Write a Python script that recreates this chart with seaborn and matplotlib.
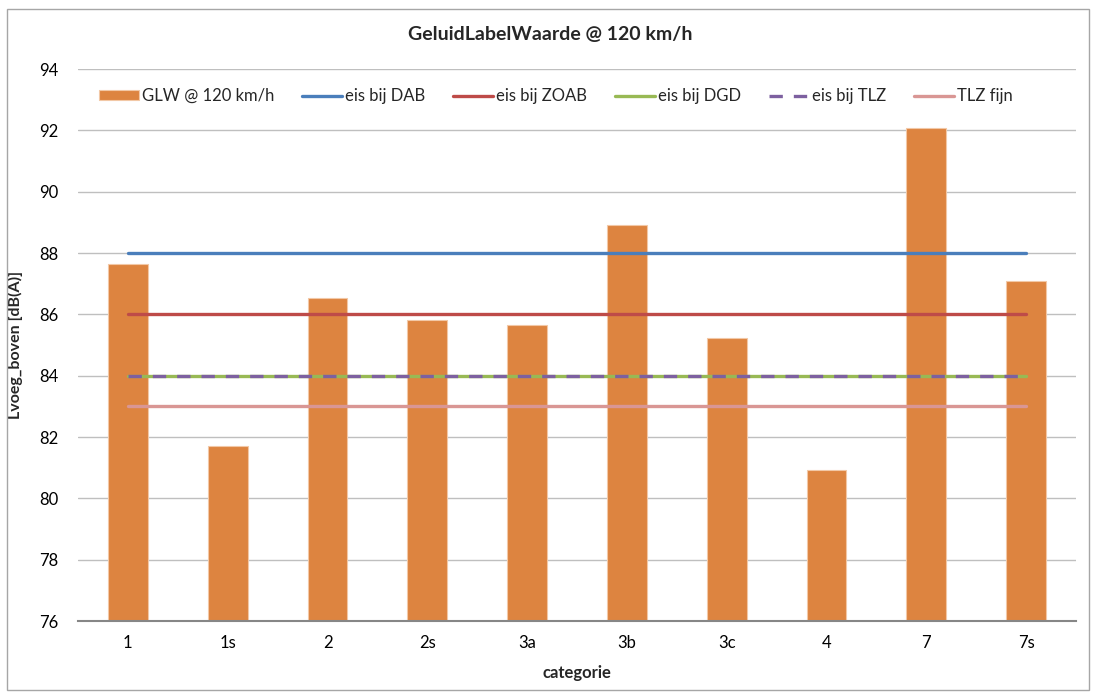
import matplotlib
matplotlib.use("Agg")
import matplotlib.pyplot as plt
import seaborn as sns
import pandas as pd
from matplotlib.patches import Rectangle

categories = ["1", "1s", "2", "2s", "3a", "3b", "3c", "4", "7", "7s"]
glw = [87.64, 81.71, 86.53, 85.82, 85.65, 88.91, 85.23, 80.93, 92.08, 87.09]
eis_dab = 88
eis_zoab = 86
eis_dgd = 84
eis_tlz = 84
tlz_fijn = 83
yticks = [76, 78, 80, 82, 84, 86, 88, 90, 92, 94]

sns.set_theme(style="white")
plt.rcParams['font.family'] = ['Lato', 'DejaVu Sans']

fig = plt.figure(figsize=(10.96, 6.95), dpi=100)
fig.patches.append(Rectangle((7/1096, 1 - 690/695), 1082/1096, 681/695,
                             transform=fig.transFigure, fill=False,
                             edgecolor="#A6A6A6", linewidth=1.0))
ax = fig.add_axes([78/1096, 1 - 621/695, 998/1096, 552/695])

df = pd.DataFrame({"categorie": categories, "GLW": glw})
sns.barplot(data=df, x="categorie", y="GLW", color="#DD8440", saturation=1,
            width=0.4, edgecolor="#F2C8A6", linewidth=0.8, ax=ax,
            label="GLW @ 120 km/h", zorder=2)

xpos = list(range(len(categories)))
lines = [
    ("eis bij DAB", eis_dab, "#4A7EBB", None),
    ("eis bij ZOAB", eis_zoab, "#BE4B48", None),
    ("eis bij DGD", eis_dgd, "#98B954", None),
    ("eis bij TLZ", eis_tlz, "#7D60A0", (4, 3.3)),
    ("TLZ fijn", tlz_fijn, "#D99694", None),
]
for name, val, col, dash in lines:
    ldf = pd.DataFrame({"x": xpos, "y": [val] * len(xpos)})
    sns.lineplot(data=ldf, x="x", y="y", color=col, linewidth=2.4,
                 ax=ax, label=name, zorder=3)
    if dash is not None:
        ax.lines[-1].set_dashes(dash)

ax.set_ylim(76, 94)
ax.set_xlim(-0.5, len(categories) - 0.5)
ax.set_yticks(yticks)
ax.set_xticks(xpos)
ax.set_xticklabels(categories)
ax.yaxis.grid(True, color="#BFBFBF", linewidth=1.0)
ax.set_axisbelow(True)
for s in ["left", "right", "top"]:
    ax.spines[s].set_visible(False)
ax.spines["bottom"].set_color("#868686")
ax.spines["bottom"].set_linewidth(1.5)
ax.spines["bottom"].set_zorder(4)
ax.tick_params(axis="both", length=0, labelsize=12, colors="#000000", pad=10)
ax.tick_params(axis="y", pad=14)

ax.set_xlabel("categorie", fontsize=12, fontweight="bold", labelpad=10)
ax.set_ylabel("Lvoeg_boven [dB(A)]", fontsize=11.5, fontweight="bold", labelpad=12)
fig.text(550/1096, 1 - 35/695, "GeluidLabelWaarde @ 120 km/h", ha="center",
         va="center", fontsize=14, fontweight="bold")

handles, labels = ax.get_legend_handles_labels()
order = [labels.index("GLW @ 120 km/h")] + [i for i, l in enumerate(labels) if l != "GLW @ 120 km/h"]
handles = [handles[i] for i in order]
labels = [labels[i] for i in order]
leg = ax.legend(handles, labels, ncol=6, loc="center left",
                bbox_to_anchor=(0.014, 0.951), frameon=False, fontsize=12,
                handlelength=2.4, handleheight=0.5, handletextpad=0.2,
                columnspacing=1.65, borderaxespad=0)

fig.savefig("out.png", dpi=100, facecolor="white")
